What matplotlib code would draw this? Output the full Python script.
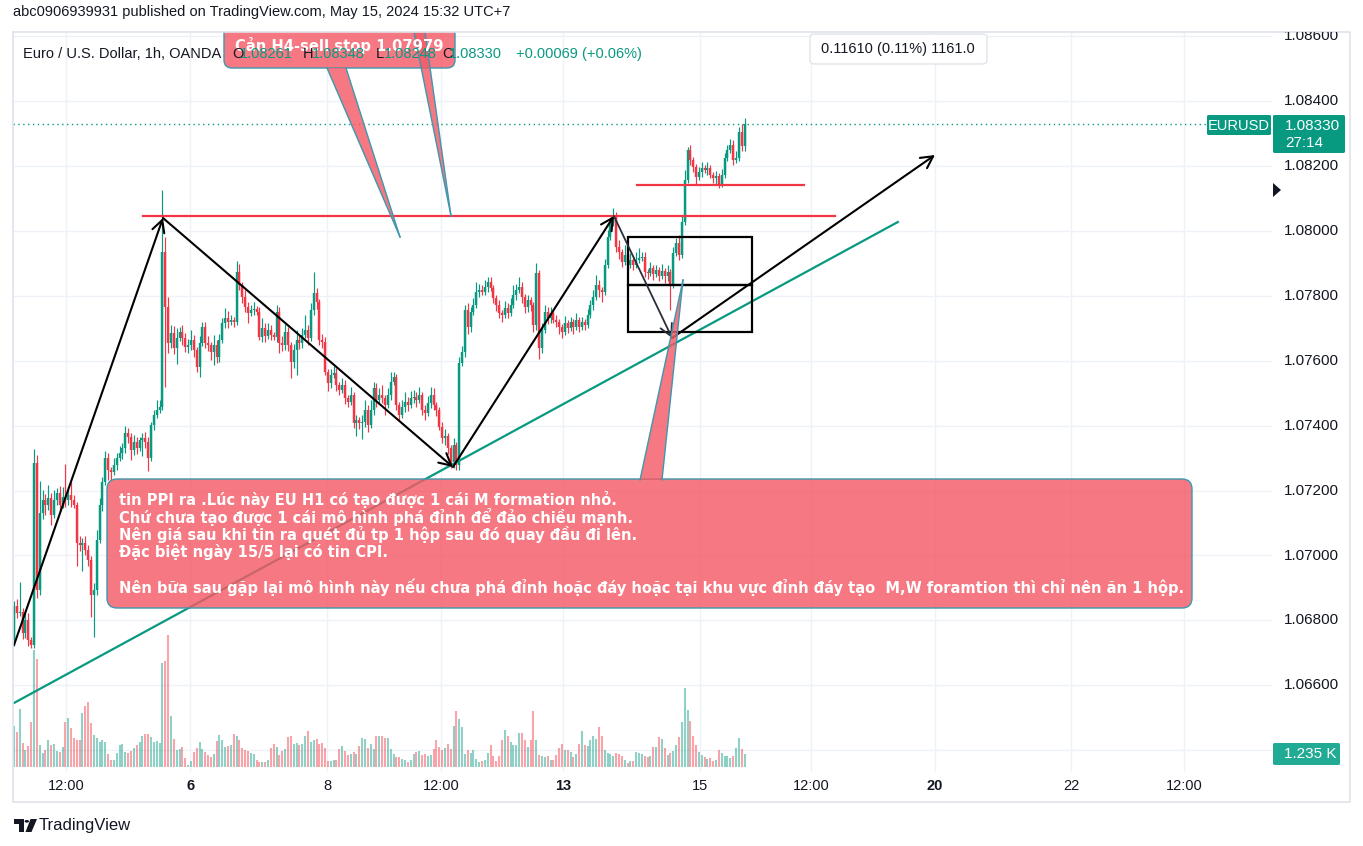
import matplotlib
matplotlib.use('Agg')
import matplotlib.pyplot as plt
from matplotlib.transforms import Affine2D, blended_transform_factory, Bbox
from matplotlib.patches import FancyBboxPatch, Polygon, Rectangle, Circle

# ---------------- data (EURUSD 1h, OANDA) ----------------
first_open = 1.06740
close = [
    1.06845, 1.06823, 1.06827, 1.06762, 1.06802, 1.06740, 1.06725, 1.07285, 1.06894, 1.07131,
    1.07171, 1.07156, 1.07178, 1.07125, 1.07171, 1.07193, 1.07156, 1.07181, 1.07171, 1.07187,
    1.07171, 1.07156, 1.07039, 1.07033, 1.07039, 1.07017, 1.06987, 1.06879, 1.06894, 1.07048,
    1.07156, 1.07227, 1.07301, 1.07264, 1.07258, 1.07279, 1.07301, 1.07316, 1.07332, 1.07378,
    1.07366, 1.07325, 1.07350, 1.07332, 1.07356, 1.07362, 1.07350, 1.07301, 1.07402, 1.07433,
    1.07449, 1.07458, 1.07935, 1.07766, 1.07655, 1.07686, 1.07640, 1.07670, 1.07689, 1.07670,
    1.07643, 1.07648, 1.07664, 1.07633, 1.07581, 1.07655, 1.07704, 1.07655, 1.07649, 1.07627,
    1.07649, 1.07612, 1.07664, 1.07717, 1.07732, 1.07720, 1.07726, 1.07720, 1.07874, 1.07834,
    1.07797, 1.07766, 1.07747, 1.07757, 1.07760, 1.07751, 1.07674, 1.07701, 1.07677, 1.07695,
    1.07680, 1.07674, 1.07751, 1.07655, 1.07649, 1.07689, 1.07649, 1.07597, 1.07633, 1.07664,
    1.07655, 1.07680, 1.07695, 1.07670, 1.07757, 1.07809, 1.07781, 1.07664, 1.07658, 1.07566,
    1.07532, 1.07556, 1.07563, 1.07526, 1.07510, 1.07526, 1.07486, 1.07473, 1.07495, 1.07409,
    1.07418, 1.07409, 1.07412, 1.07449, 1.07402, 1.07449, 1.07516, 1.07479, 1.07495, 1.07486,
    1.07464, 1.07495, 1.07535, 1.07550, 1.07464, 1.07433, 1.07458, 1.07473, 1.07464, 1.07486,
    1.07489, 1.07479, 1.07495, 1.07449, 1.07439, 1.07470, 1.07495, 1.07464, 1.07449, 1.07396,
    1.07362, 1.07369, 1.07332, 1.07289, 1.07341, 1.07279, 1.07593, 1.07627, 1.07757, 1.07704,
    1.07751, 1.07772, 1.07812, 1.07818, 1.07812, 1.07828, 1.07843, 1.07824, 1.07794, 1.07772,
    1.07747, 1.07741, 1.07763, 1.07747, 1.07772, 1.07803, 1.07818, 1.07828, 1.07797, 1.07766,
    1.07787, 1.07772, 1.07710, 1.07871, 1.07640, 1.07695, 1.07751, 1.07732, 1.07747, 1.07726,
    1.07720, 1.07704, 1.07689, 1.07717, 1.07701, 1.07720, 1.07704, 1.07726, 1.07704, 1.07720,
    1.07710, 1.07741, 1.07772, 1.07797, 1.07834, 1.07818, 1.07812, 1.07895, 1.07982, 1.08025,
    1.08043, 1.07951, 1.07935, 1.07905, 1.07926, 1.07895, 1.07911, 1.07895, 1.07911, 1.07917,
    1.07920, 1.07874, 1.07871, 1.07886, 1.07868, 1.07880, 1.07861, 1.07877, 1.07861, 1.07874,
    1.07834, 1.07932, 1.07963, 1.07926, 1.08028, 1.08157, 1.08249, 1.08219, 1.08197, 1.08166,
    1.08182, 1.08194, 1.08188, 1.08194, 1.08172, 1.08163, 1.08169, 1.08145, 1.08172, 1.08225,
    1.08249, 1.08265, 1.08219, 1.08225, 1.08305, 1.08261, 1.08330,
]
# wick lengths beyond the body, in pips
up_wick = [
    1.5, 2, 9, 1, 3, 2, 1, 4.3, 2.5, 10, 3, 2, 4, 1.5, 3, 1.5, 2, 3, 10, 2,
    4, 1.5, 1, 2, 1.5, 2, 1.5, 1, 2, 3, 2, 1.5, 2, 1.5, 1, 2, 1.5, 2, 1.5, 2,
    1.5, 1, 2, 1.5, 1, 1.5, 2, 1.5, 1, 1.5, 3, 2, 19, 4.6, 3, 2.5, 2, 3, 1.5, 2,
    1.5, 2, 3, 1.5, 1, 2, 1.5, 1.5, 2, 1, 3, 1.5, 2, 1.5, 3, 2, 1.5, 1, 3.4, 2.5,
    1, 2, 1.5, 1.5, 2, 1, 1.5, 3, 1.5, 2, 1.5, 1, 2, 1.5, 2, 2.5, 1.5, 1, 2, 3,
    1.5, 2, 4.5, 1.5, 2, 6.5, 1.5, 1, 2, 1.5, 1, 2, 2, 1.5, 1, 2, 1.5, 1, 2.5, 1,
    1.5, 1, 2, 3, 1.5, 3, 2, 1.5, 2, 3, 1, 2, 3, 1.5, 1, 1, 2, 3, 1.5, 2,
    2, 1.5, 2.5, 1, 1.5, 2, 2.5, 2, 1, 1, 1.5, 2, 1, 1, 2, 1, 2, 2, 1.5, 2,
    1.5, 2, 3, 2, 1.5, 2, 1.5, 1.5, 1, 1, 1.5, 1, 2, 1.5, 2, 3, 2, 3, 1.5, 1,
    1.5, 1, 1, 3, 1, 2, 2, 1.5, 2, 1, 1.5, 1, 1, 2, 1, 1.5, 1, 2, 1, 1.5,
    1, 2, 1.5, 2, 3, 1.5, 1, 2, 2, 1.5, 2.8, 1.5, 2, 1, 3, 1, 2, 1, 2.5, 3,
    1.5, 1.5, 1, 2, 1, 1.5, 1, 2, 1, 2, 1, 2, 1.5, 2.5, 2, 3, 1, 1.5, 1, 1,
    1.5, 2, 1, 2, 1, 1, 1.5, 1, 2, 1.5, 1.5, 2, 1.5, 2, 1.5, 2.5, 1.8,
]
dn_wick = [
    2, 1.5, 1, 2, 1.5, 2, 1, 1, 2.5, 1.5, 2, 3, 1.5, 3, 1, 1.5, 2, 1, 2, 1.5,
    2, 1, 7, 2, 8, 1.5, 2, 7, 13, 1.5, 1, 2, 1, 3, 2.5, 1, 1.5, 1, 2, 1.5,
    2, 3, 1.5, 2, 1, 5, 2, 4, 1, 1.5, 1, 1, 1, 24.6, 3, 1.5, 2, 5, 1, 2,
    1.5, 2, 1.5, 2, 1.5, 3, 1, 1.5, 2, 2.5, 4, 2, 1.5, 1, 1.5, 2, 1, 1.5, 1, 1.5,
    2, 1.5, 3, 1, 1.5, 1, 1, 1.5, 2, 1, 1.5, 1, 1.5, 3, 2, 1.5, 2, 5, 2, 7.7,
    2, 1.5, 1, 2, 1, 1.5, 2, 1.5, 2, 1, 2.5, 1.5, 1, 2, 1.5, 1, 2, 1.5, 1, 1.5,
    4, 2, 5, 1.5, 2, 1, 1.5, 2, 1, 1.5, 3, 1, 1.5, 1, 1.5, 1.5, 1, 1.5, 2, 1,
    1.5, 2, 1, 1.5, 2, 1, 1.5, 1.5, 2, 1, 1.5, 2, 2, 2, 2, 1.5, 1.5, 1, 1.5, 2,
    1.5, 1, 1, 1.5, 1, 1, 1.5, 1, 1.5, 2, 1.5, 2, 1, 1.5, 1, 1, 1.5, 1, 2, 2,
    1.5, 2, 2, 1.5, 3.4, 1.5, 1, 2, 1.5, 1, 1.5, 2, 2, 1, 1.5, 1, 2, 1, 1.5, 1,
    1.5, 1, 1, 1.5, 1, 2, 3, 1, 1, 1, 1, 1.5, 2, 1.5, 1, 1.5, 1, 1.5, 1, 1,
    1, 1.5, 2, 1, 2, 1, 1.5, 1, 2, 1.5, 7.7, 1, 1, 1.5, 1, 1, 1, 1.5, 1.5, 2,
    1, 1.5, 1, 1.5, 1, 1.5, 2, 1.3, 1, 1, 1, 1, 1.5, 1, 1, 1.5, 1.3,
]
volume = [
    3895, 3325, 5510, 2280, 1615, 1995, 4275, 11115, 10260, 2090, 1330, 1615, 2565, 2090, 2185, 1520, 1425, 1900, 4275, 4655,
    3705, 2755, 2565, 2565, 5130, 5795, 6175, 4180, 3040, 2755, 2375, 2565, 2375, 1235, 665, 665, 1330, 2090, 2185, 1425,
    1330, 1520, 1805, 2090, 2375, 2945, 3135, 3135, 2850, 2375, 2470, 2280, 9880, 10070, 12540, 4845, 2660, 1615, 1710, 1900,
    855, 190, 570, 1425, 1805, 2375, 1710, 1425, 1140, 950, 1235, 2470, 3040, 2565, 1900, 1995, 2090, 3135, 2945, 2565,
    1805, 1615, 1520, 1330, 1235, 665, 475, 475, 475, 665, 1805, 2185, 1900, 1140, 1520, 1710, 2850, 2945, 2185, 2280,
    2090, 2185, 2945, 3420, 2375, 2565, 2660, 2185, 2280, 1805, 570, 570, 665, 665, 1710, 1995, 1520, 1140, 1235, 1425,
    1235, 1995, 2755, 2660, 1805, 2185, 1710, 2945, 2945, 2945, 2755, 2755, 1710, 1235, 950, 950, 760, 665, 475, 665,
    1235, 1425, 1520, 1140, 1235, 1045, 1140, 1710, 2565, 1900, 1615, 1805, 2185, 1710, 3895, 5320, 4560, 3800, 1235, 1615,
    1330, 1615, 760, 475, 570, 665, 1330, 2090, 1045, 570, 1045, 2565, 3515, 2945, 2375, 2090, 2090, 3230, 3230, 2565,
    1900, 2565, 5320, 2565, 1140, 1045, 950, 1045, 665, 665, 1140, 1805, 2185, 1615, 1615, 1425, 950, 1235, 2185, 3420,
    2090, 1995, 2565, 2945, 2660, 3800, 2945, 1615, 1330, 1235, 1045, 1330, 1235, 1045, 665, 380, 570, 570, 1425, 1330,
    1235, 1045, 950, 1045, 1900, 1900, 2850, 2660, 1805, 1140, 1330, 1520, 2090, 2850, 4275, 7505, 5415, 4370, 2945, 2090,
    1425, 1140, 950, 760, 855, 570, 665, 1615, 1330, 1045, 1045, 855, 1045, 1805, 2755, 1710, 1235,
]
tick_labels = ['12:00', '6', '8', '12:00', '13', '15', '12:00', '20', '22', '12:00']
tick_bar = [18.2, 61.7, 109.7, 149.6, 192.4, 240.4, 279.3, 322.7, 370.4, 410.0]
tick_bold = [False, True, False, False, True, False, False, True, False, False]
price_levels = [1.086, 1.084, 1.082, 1.080, 1.078, 1.076, 1.074, 1.072, 1.070, 1.068, 1.066, 1.064]

callout_top = 'Cản H4-sell stop 1.07979'
callout_lines = [
    'tin PPI ra .Lúc này EU H1 có tạo được 1 cái M formation nhỏ.',
    'Chứ chưa tạo được 1 cái mô hình phá đỉnh để đảo chiều mạnh.',
    'Nên giá sau khi tin ra quét đủ tp 1 hộp sau đó quay đầu đi lên.',
    'Đặc biệt ngày 15/5 lại có tin CPI.',
    '',
    'Nên bữa sau gặp lại mô hình này nếu chưa phá đỉnh hoặc đáy hoặc tại khu vực đỉnh đáy tạo  M,W foramtion thì chỉ nên ăn 1 hộp.',
]

# ---------------- style ----------------
UP = '#089981'
DN = '#F23645'
TXT = '#131722'
GRID = '#EEF1F6'
FONT = 'Liberation Sans'
BOLDFONT = 'DejaVu Sans'
plt.rcParams['font.family'] = [FONT, 'DejaVu Sans']

W, H = 1363, 846
PL, PR, PT, PB = 13, 1272, 32, 772
PPX = 0.002 / 64.9          # price per pixel
VOLPX = 95.0                # volume per pixel
VOL_BASE = 767

fig = plt.figure(figsize=(W / 100, H / 100), dpi=100)
fig.patch.set_facecolor('white')
ax = fig.add_axes([PL / W, 1 - PB / H, (PR - PL) / W, (PB - PT) / H])
ax.set_xlim(-0.35, 440.8)
ax.set_ylim(1.08 - (PB - 231) * PPX, 1.08 + (231 - PT) * PPX)
ax.set_autoscale_on(False)
ax.set_axis_off()

pxT = Affine2D().scale(1 / W, -1 / H).translate(0, 1) + fig.transFigure

n = min(len(close), len(up_wick), len(dn_wick), len(volume))
xs = list(range(n))
opens = [first_open] + close[:n - 1]
cols = [UP if close[i] >= opens[i] else DN for i in range(n)]
highs = [max(opens[i], close[i]) + up_wick[i] * 1e-4 for i in range(n)]
lows = [min(opens[i], close[i]) - dn_wick[i] * 1e-4 for i in range(n)]

# grid
for p in price_levels:
    ax.axhline(p, color=GRID, lw=1, zorder=0)
for t in tick_bar:
    ax.axvline(t, color=GRID, lw=1, zorder=0)

# volume
volT = blended_transform_factory(
    ax.transData,
    Affine2D().scale(1, 1 / (VOLPX * (PB - PT))).translate(0, (PB - VOL_BASE) / (PB - PT)) + ax.transAxes)
vcols = [(0.031, 0.6, 0.506, 0.45) if c == UP else (0.949, 0.212, 0.27, 0.45) for c in cols]
ax.vlines(xs, [0] * n, volume[:n], colors=vcols, lw=1.5, transform=volT, zorder=1)

# candles
ax.vlines(xs, lows, highs, colors=cols, lw=0.85, zorder=2)
b0 = [min(opens[i], close[i]) for i in range(n)]
b1 = [max(max(opens[i], close[i]), min(opens[i], close[i]) + 1.2e-5) for i in range(n)]
ax.vlines(xs, b0, b1, colors=cols, lw=1.75, zorder=2)

# current price dotted line
ax.plot([-0.35, 426.5], [close[n - 1]] * 2, color=UP, lw=1, ls=(0, (1, 2.5)), zorder=2)

# drawings (bar index, price)
ax.plot([45.2, 287.7], [1.08046, 1.08046], color=DN, lw=1.6, zorder=4)
ax.plot([218.3, 276.8], [1.08142, 1.08142], color=DN, lw=1.6, zorder=4)
ax.plot([-0.7, 309.7], [1.065422, 1.080277], color=UP, lw=1.6, zorder=4)
for y0, y1 in [(1.078336, 1.079815), (1.076887, 1.078336)]:
    ax.add_patch(Rectangle((215.1, y0), 43.5, y1 - y0, fill=False, ec='black', lw=1.6, zorder=4))

def arrow(p0, p1, color='black', lw=1.5):
    ax.annotate('', xy=p1, xytext=p0, zorder=5,
                arrowprops=dict(arrowstyle='->,head_length=0.85,head_width=0.45', color=color,
                                lw=lw, shrinkA=0, shrinkB=0))

arrow((0, 1.067240), (52.2, 1.080401))
arrow((52.2, 1.080401), (153.8, 1.072727))
arrow((153.8, 1.072727), (210.2, 1.080462))
arrow((210.2, 1.080462), (230.6, 1.076702), color='#2a2e39', lw=1.3)
arrow((230.6, 1.076702), (322.7, 1.082342))

# callouts (pixel coordinates)
CFC = (0.953, 0.353, 0.40, 0.82)
CEC = '#3f97ad'

def tail(pts):
    ax.add_patch(Polygon(pts, closed=True, transform=pxT, fc=CFC, ec='none', zorder=6))
    for a, b in [(pts[0], pts[2]), (pts[1], pts[2])]:
        ax.plot([a[0], b[0]], [a[1], b[1]], color=CEC, lw=1, transform=pxT, zorder=6)

ax.add_patch(FancyBboxPatch((224, 18), 231, 50, boxstyle='round,pad=0,rounding_size=8',
                            transform=pxT, fc=CFC, ec=CEC, lw=1, zorder=6))
tail([(327, 68), (346, 68), (400, 237)])
tail([(414, 32), (425, 32), (451, 216)])
ax.text(339, 51, callout_top, transform=pxT, ha='center', va='baseline', color='white',
        fontsize=10.6, fontweight='bold', family=BOLDFONT, zorder=7, clip_on=True)

ax.add_patch(FancyBboxPatch((107, 479), 1085, 129, boxstyle='round,pad=0,rounding_size=10',
                            transform=pxT, fc=CFC, ec=CEC, lw=1, zorder=6))
tail([(640, 480), (662, 480), (683, 280)])
base_y = [505, 523, 540, 557, 575, 593]
for s, yb in zip(callout_lines, base_y):
    if s:
        ax.text(119, yb, s, transform=pxT, ha='left', va='baseline', color='white',
                fontsize=10.5, fontweight='bold', family=BOLDFONT, zorder=7)

# ---------------- texts / labels ----------------
def ftext(x, y, s, **kw):
    kw.setdefault('color', TXT)
    kw.setdefault('fontsize', 10.5)
    kw.setdefault('va', 'center')
    return fig.text(x / W, 1 - y / H, s, **kw)

ftext(13, 12, 'abc0906939931 published on TradingView.com, May 15, 2024 15:32 UTC+7')
ftext(23, 54, 'Euro / U.S. Dollar, 1h, OANDA', zorder=10)
for xx, s, c in [(232, 'O', TXT), (240, '1.08261', UP), (303, 'H', TXT), (312, '1.08348', UP),
                 (376, 'L', TXT), (384, '1.08248', UP), (442, 'C', TXT), (449, '1.08330', UP),
                 (516, '+0.00069 (+0.06%)', UP)]:
    ftext(xx, 54, s, color=c, zorder=10)

# measurement tooltip
fig.patches.append(FancyBboxPatch((810 / W, 1 - 64 / H), 177 / W, 30 / H,
                                  boxstyle='round,pad=0,rounding_size=0.004',
                                  transform=fig.transFigure, fc='white', ec='#E0E3EB', lw=1))
ftext(898, 49, '0.11610 (0.11%) 1161.0', ha='center')

# price scale (the lowest label sits behind the volume label, only its top shows)
clipbox = Bbox.from_extents(PR, H - 802, 1350, H - PT)
clip_low = Bbox.from_extents(PR, H - 743, 1350, H - PT)
for p in price_levels:
    yp = 231 - (p - 1.08) / PPX
    t = ftext(1284, yp, f'{p:.5f}', fontsize=11)
    t.set_clip_box(clip_low if yp > 740 else clipbox)
    t.set_clip_on(True)

def pxrect(x0, y0, x1, y1, color, z=8, rs=2):
    fig.patches.append(FancyBboxPatch((x0 / W, 1 - y1 / H), (x1 - x0) / W, (y1 - y0) / H,
                                      boxstyle=f'round,pad=0,rounding_size={rs / W}',
                                      transform=fig.transFigure, fc=color, ec='none', zorder=z))

pxrect(1207, 115, 1271, 135, UP)
ftext(1239, 125.5, 'EURUSD', color='white', ha='center', fontsize=10.5, zorder=9)
pxrect(1273, 115, 1345, 153, UP)
ftext(1285, 125.5, f'{close[n - 1]:.5f}', color='white', fontsize=11, zorder=9)
ftext(1285, 143, '27:14', color='white', fontsize=11, zorder=9)
pxrect(1273, 743, 1340, 765, '#22AB94')
ftext(1284, 754, '1.235 K', color='white', fontsize=11, zorder=9)
fig.patches.append(Polygon([(1273 / W, 1 - 183 / H), (1281 / W, 1 - 190 / H), (1273 / W, 1 - 197 / H)],
                           closed=True, transform=fig.transFigure, fc=TXT, ec='none'))

# time scale
for t, s, b in zip(tick_bar, tick_labels, tick_bold):
    xp = 14 + t * 2.854
    ftext(xp, 786, s, ha='center', fontsize=10.5, fontweight='bold' if b else 'normal')

# frame
fig.lines.append(plt.Line2D([PL / W, 1350 / W, 1350 / W, PL / W, PL / W],
                            [1 - PT / H, 1 - PT / H, 1 - 802 / H, 1 - 802 / H, 1 - PT / H],
                            transform=fig.transFigure, color='#E0E3EB', lw=1.2))

# footer logo
logo = [[(14, 819), (24, 819), (24, 832), (19, 832), (19, 824), (14, 824)],
        [(30.5, 819), (37, 819), (31.5, 832), (25.5, 832)]]
for pts in logo:
    fig.patches.append(Polygon([(x / W, 1 - y / H) for x, y in pts], closed=True,
                               transform=fig.transFigure, fc=TXT, ec='none'))
fig.patches.append(Circle((26.8 / W, 1 - 821.3 / H), 2.2 / W, transform=fig.transFigure, fc=TXT, ec='none'))
ftext(39, 825, 'TradingView', fontsize=12)

fig.savefig('out.png', dpi=100, facecolor='white')
